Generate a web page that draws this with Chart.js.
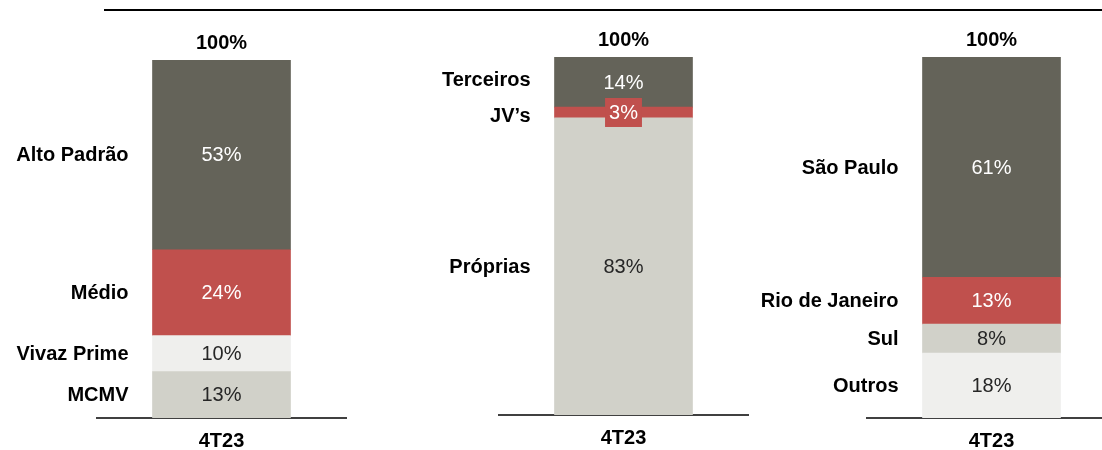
<!DOCTYPE html>
<html>
<head>
<meta charset="utf-8">
<script src="https://cdn.jsdelivr.net/npm/chart.js@4"></script>
<style>
	html, body { margin: 0; padding: 0; background: #fff; }
	body { width: 1102px; height: 450px; position: relative; overflow: hidden; }
	.top-line { position: absolute; left: 104px; right: 0; top: 9px; height: 2px; background: #000; }
	.panel { position: absolute; top: 0; width: 379px; height: 472px; }
</style>
</head>
<body>
<div class="top-line"></div>
<div class="panel" style="left:-23px"><canvas id="segmentoChart"></canvas></div>
<div class="panel" style="left:379px"><canvas id="origemChart"></canvas></div>
<div class="panel" style="left:747px"><canvas id="regiaoChart"></canvas></div>

<script>
// dados 4T23 (de baixo para cima)
const periodo = ['4T23'];

const segmentoLabels = ['MCMV', 'Vivaz Prime', 'Médio', 'Alto Padrão'];
const segmentoValores = [13, 10, 24, 53];

const origemLabels = ['Próprias', 'JV’s', 'Terceiros'];
const origemValores = [83, 3, 14];

const regiaoLabels = ['Outros', 'Sul', 'Rio de Janeiro', 'São Paulo'];
const regiaoValores = [18, 8, 13, 61];

const FONT = '"Liberation Sans", Arial, sans-serif';
const ESCURO = '#646359';
const VERMELHO = '#c0504d';
const CINZA = '#d1d1c9';
const CLARO = '#efefed';

function isDark(hex) {
	var r = parseInt(hex.substr(1, 2), 16);
	var g = parseInt(hex.substr(3, 2), 16);
	var b = parseInt(hex.substr(5, 2), 16);
	return (r * 0.299 + g * 0.587 + b * 0.114) < 160;
}

const labelsPlugin = {
	id: 'labels',
	afterDatasetsDraw(chart) {
		var ctx = chart.ctx;
		var datasets = chart.data.datasets;
		var bars = [];
		datasets.forEach(function (ds, i) {
			var bar = chart.getDatasetMeta(i).data[0];
			bars.push({ ds: ds, bar: bar, y: (bar.y + bar.base) / 2 });
		});

		ctx.save();
		ctx.textBaseline = 'middle';

		// valores dentro das barras
		ctx.font = '20px ' + FONT;
		ctx.textAlign = 'center';
		bars.forEach(function (b) {
			var txt = b.ds.data[0] + '%';
			var h = Math.abs(b.bar.base - b.bar.y);
			if (h < 24) {
				var w = ctx.measureText(txt).width + 8;
				ctx.fillStyle = b.ds.backgroundColor;
				ctx.fillRect(b.bar.x - w / 2, b.y - 14.5, w, 29);
			}
			ctx.fillStyle = isDark(b.ds.backgroundColor) ? '#ffffff' : '#262626';
			ctx.fillText(txt, b.bar.x, b.y + 1);
		});

		// nomes à esquerda, afastados se ficarem muito juntos
		var pos = bars.map(function (b) { return b.y; });
		var minGap = 36;
		for (var i = 1; i < pos.length; i++) {
			var gap = pos[i - 1] - pos[i];
			if (gap < minGap) {
				var d = (minGap - gap) / 2;
				pos[i - 1] += d;
				pos[i] -= d;
			}
		}
		ctx.font = 'bold 20px ' + FONT;
		ctx.textAlign = 'right';
		ctx.fillStyle = '#000';
		bars.forEach(function (b, i) {
			ctx.fillText(b.ds.label, b.bar.x - b.bar.width / 2 - 24, pos[i] + 1);
		});

		// total acima da barra
		var total = datasets.reduce(function (s, ds) { return s + ds.data[0]; }, 0);
		var top = bars[bars.length - 1].bar;
		ctx.textAlign = 'center';
		ctx.fillText(total + '%', top.x, top.y - 17);
		ctx.restore();
	}
};

function makeChart(id, labels, valores, cores, padTop, padBottom) {
	var ctx = document.getElementById(id);
	return new Chart(ctx, {
		type: 'bar',
		data: {
			labels: periodo,
			datasets: labels.map(function (l, i) {
				return {
					label: l,
					data: [valores[i]],
					backgroundColor: cores[i],
					borderWidth: 0,
					barThickness: 138,
				};
			}),
		},
		options: {
			responsive: true,
			maintainAspectRatio: false,
			animation: false,
			layout: {
				padding: { left: 120, right: 10, top: padTop, bottom: padBottom },
			},
			plugins: {
				legend: { display: false },
				tooltip: { enabled: false },
			},
			scales: {
				x: {
					stacked: true,
					grid: { display: false, drawTicks: false },
					border: { display: true, color: '#404040', width: 2 },
					ticks: {
						color: '#000',
						padding: 11,
						font: { family: FONT, size: 20, weight: 'bold' },
					},
				},
				y: {
					stacked: true,
					display: false,
					min: 0,
					max: 100,
				},
			},
		},
		plugins: [labelsPlugin],
	});
}

makeChart('segmentoChart', segmentoLabels, segmentoValores, [CINZA, CLARO, VERMELHO, ESCURO], 60, 8);
makeChart('origemChart', origemLabels, origemValores, [CINZA, VERMELHO, ESCURO], 57, 11);
makeChart('regiaoChart', regiaoLabels, regiaoValores, [CLARO, CINZA, VERMELHO, ESCURO], 57, 8);
</script>
</body>
</html>
